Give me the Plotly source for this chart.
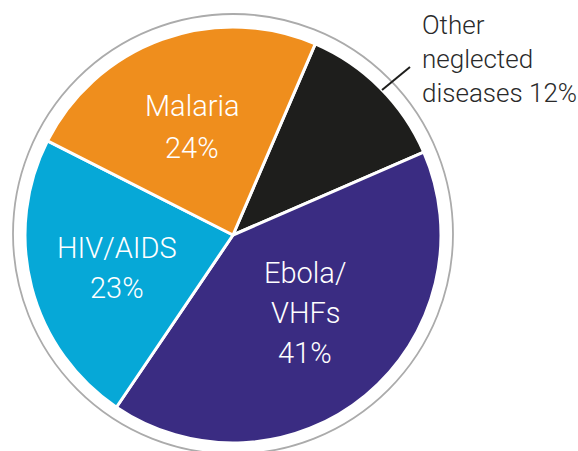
import plotly.graph_objects as go

W, H = 578, 451

# Data
categories = ["Other neglected diseases", "Ebola/VHFs", "HIV/AIDS", "Malaria"]
shares = [12, 41, 23, 24]
colors = ["#1E1E1C", "#3A2C82", "#06A8D7", "#EF8E1D"]

# label lines (text) per category
label_lines = {
    "Malaria": ["Malaria", f"{shares[3]}%"],
    "HIV/AIDS": ["HIV/AIDS", f"{shares[2]}%"],
    "Ebola/VHFs": ["Ebola/", "VHFs", f"{shares[1]}%"],
    "Other neglected diseases": ["Other", "neglected", f"diseases {shares[0]}%"],
}

def px(x):
    return x / W

def py(y):
    return 1 - y / H

cx, cy, r = 233, 235, 208

fig = go.Figure(go.Pie(
    labels=categories,
    values=shares,
    sort=False,
    direction="clockwise",
    rotation=23.3,
    textinfo="none",
    marker=dict(colors=colors, line=dict(color="white", width=3)),
    domain=dict(x=[px(cx - r), px(cx + r)], y=[py(cy + r), py(cy - r)]),
    showlegend=False,
))

shapes = [
    dict(type="circle", xref="paper", yref="paper",
         x0=px(13), x1=px(453), y0=py(454), y1=py(14),
         line=dict(color="#ABABAB", width=1.8), layer="below"),
    dict(type="line", xref="paper", yref="paper",
         x0=px(382), y0=py(90), x1=px(410), y1=py(67),
         line=dict(color="#1E1E1C", width=2)),
]

annotations = []
font_in = dict(family="Roboto", size=29, color="white", weight=300)
font_out = dict(family="Roboto", size=26, color="#2A2A2A", weight=300)

def add_lines(lines, x, y0, dy, font, xanchor="center"):
    for i, t in enumerate(lines):
        annotations.append(dict(
            text=t, x=px(x), y=py(y0 + i * dy), xref="paper", yref="paper",
            xanchor=xanchor, yanchor="middle", showarrow=False, font=font))

add_lines(label_lines["Malaria"], 192, 106, 42, font_in)
add_lines(label_lines["HIV/AIDS"], 117, 248, 40, font_in)
add_lines(label_lines["Ebola/VHFs"], 305, 273, 40, font_in)
add_lines(label_lines["Other neglected diseases"], 420, 25, 34, font_out, xanchor="left")

fig.update_layout(
    width=W, height=H,
    margin=dict(l=0, r=0, t=0, b=0),
    paper_bgcolor="white",
    plot_bgcolor="white",
    shapes=shapes,
    annotations=annotations,
)

fig.write_html("out.html")
